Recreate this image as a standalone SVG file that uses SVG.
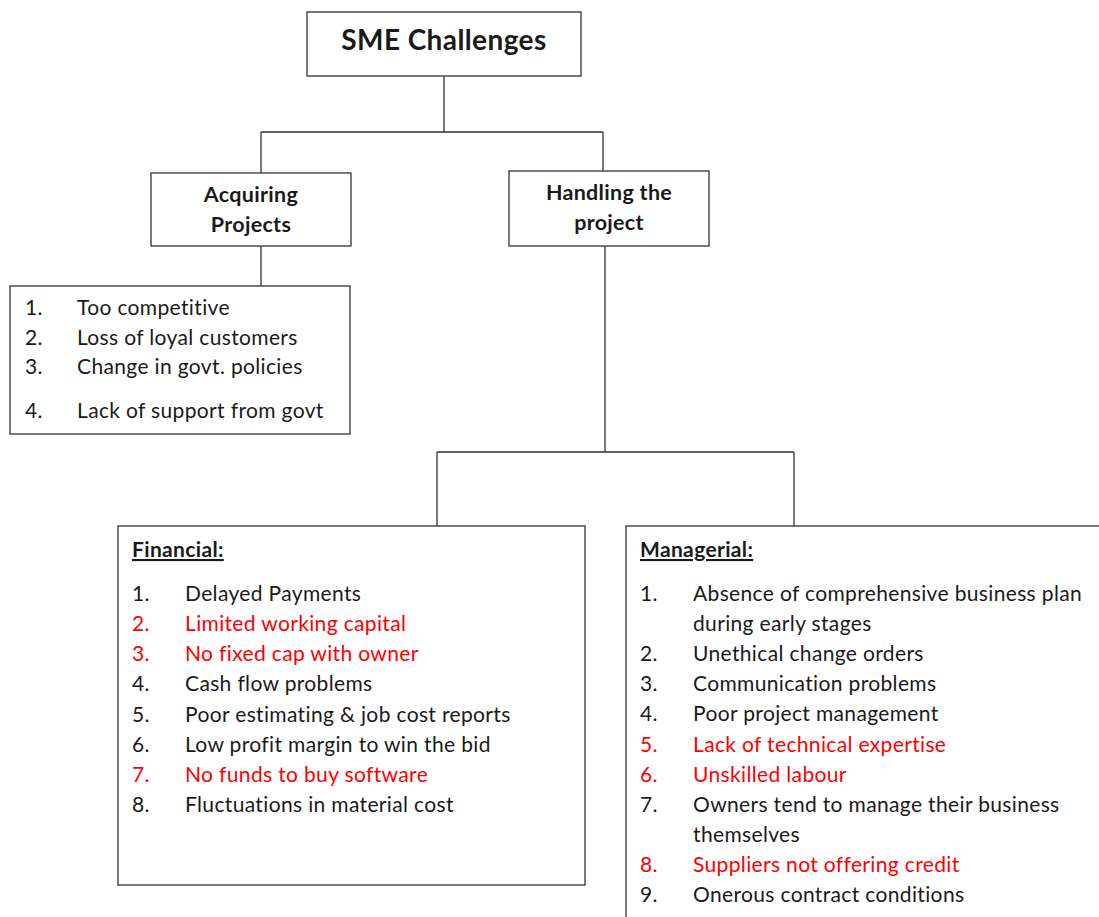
<svg xmlns="http://www.w3.org/2000/svg" width="1099" height="917" viewBox="0 0 1099 917">
<style>
  .box{fill:#fff;stroke:#333;stroke-width:1.3}
  .ln{fill:none;stroke:#333;stroke-width:1.3}
  text{font-family:Lato,"Liberation Sans",sans-serif;font-size:21px;letter-spacing:0.35px;fill:#1a1a1a}
  .b{font-weight:bold}
  .h{font-size:21.5px;letter-spacing:0.3px}
  .r{fill:#ff0000}
  .c{text-anchor:middle}
  .u{text-decoration:underline}
</style>
<rect width="1099" height="917" fill="#fff"/>
<g id="connectors">
  <path class="ln" d="M444,76 V132 M261,132 H603 M261,132 V173 M603,132 V171"/>
  <path class="ln" d="M261,246 V286"/>
  <path class="ln" d="M605,246 V452 M437,452 H794 M437,452 V526 M794,452 V526"/>
</g>
<g id="sme">
  <rect class="box" x="307" y="12" width="274" height="64"/>
  <text class="b c" x="444" y="50" style="font-size:28px;letter-spacing:0.4px">SME Challenges</text>
</g>
<g id="acquiring">
  <rect class="box" x="151" y="173" width="200" height="73"/>
  <text class="b c h" x="251" y="202">Acquiring</text>
  <text class="b c h" x="251" y="232">Projects</text>
</g>
<g id="handling">
  <rect class="box" x="509" y="171" width="200" height="75"/>
  <text class="b c h" x="609" y="200">Handling the</text>
  <text class="b c h" x="609" y="230">project</text>
</g>
<g id="acquiring-list">
  <rect class="box" x="10" y="286" width="340" height="148"/>
  <text x="25" y="315">1.</text><text x="77" y="315">Too competitive</text>
  <text x="25" y="345">2.</text><text x="77" y="345">Loss of loyal customers</text>
  <text x="25" y="374">3.</text><text x="77" y="374">Change in govt. policies</text>
  <text x="25" y="418">4.</text><text x="77" y="418">Lack of support from govt</text>
</g>
<g id="financial">
  <rect class="box" x="118" y="526" width="467" height="359"/>
  <text class="b u" x="132" y="557">Financial:</text>
  <text x="132" y="601">1.</text><text x="185" y="601">Delayed Payments</text>
  <text class="r" x="132" y="631">2.</text><text class="r" x="185" y="631">Limited working capital</text>
  <text class="r" x="132" y="661">3.</text><text class="r" x="185" y="661">No fixed cap with owner</text>
  <text x="132" y="691">4.</text><text x="185" y="691">Cash flow problems</text>
  <text x="132" y="722">5.</text><text x="185" y="722">Poor estimating &amp; job cost reports</text>
  <text x="132" y="752">6.</text><text x="185" y="752">Low profit margin to win the bid</text>
  <text class="r" x="132" y="782">7.</text><text class="r" x="185" y="782">No funds to buy software</text>
  <text x="132" y="812">8.</text><text x="185" y="812">Fluctuations in material cost</text>
</g>
<g id="managerial">
  <rect class="box" x="626" y="526" width="500" height="420"/>
  <text class="b u" x="640" y="557">Managerial:</text>
  <text x="640" y="601">1.</text><text x="693" y="601">Absence of comprehensive business plan</text>
  <text x="693" y="631">during early stages</text>
  <text x="640" y="661">2.</text><text x="693" y="661">Unethical change orders</text>
  <text x="640" y="691">3.</text><text x="693" y="691">Communication problems</text>
  <text x="640" y="721">4.</text><text x="693" y="721">Poor project management</text>
  <text class="r" x="640" y="752">5.</text><text class="r" x="693" y="752">Lack of technical expertise</text>
  <text class="r" x="640" y="782">6.</text><text class="r" x="693" y="782">Unskilled labour</text>
  <text x="640" y="812">7.</text><text x="693" y="812">Owners tend to manage their business</text>
  <text x="693" y="842">themselves</text>
  <text class="r" x="640" y="872">8.</text><text class="r" x="693" y="872">Suppliers not offering credit</text>
  <text x="640" y="902">9.</text><text x="693" y="902">Onerous contract conditions</text>
</g>
</svg>
